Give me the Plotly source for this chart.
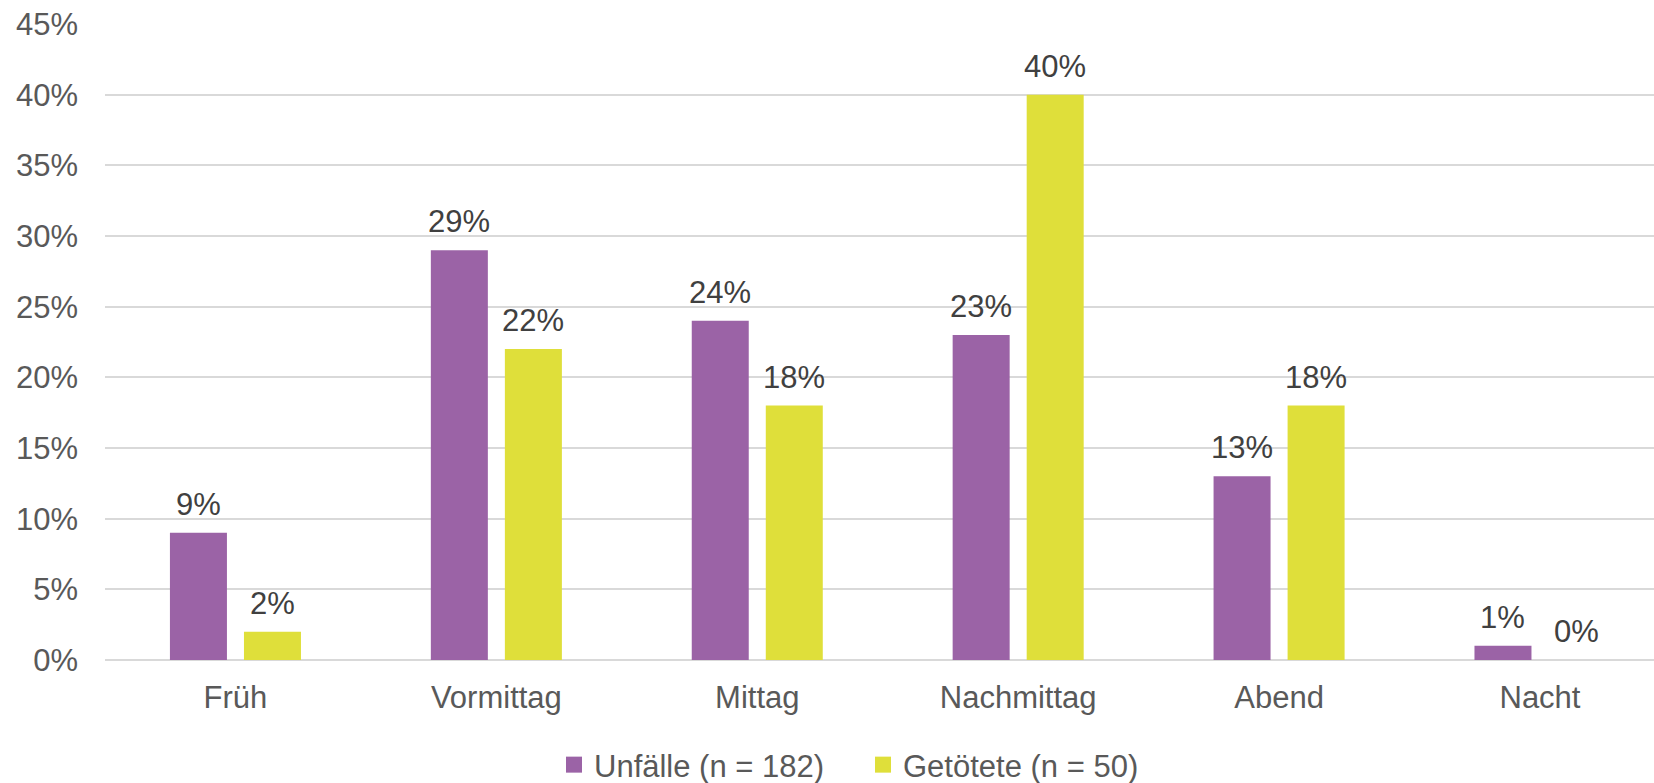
import plotly.graph_objects as go

categories = ["Früh", "Vormittag", "Mittag", "Nachmittag", "Abend", "Nacht"]
unfaelle = [9, 29, 24, 23, 13, 1]
getoetete = [2, 22, 18, 40, 18, 0]
series_names = ["Unfälle (n = 182)", "Getötete (n = 50)"]
y_ticks = [0, 5, 10, 15, 20, 25, 30, 35, 40, 45]

PURPLE = "#9B63A6"
YELLOW = "#DFDF3A"
FONT = "Liberation Sans, Arial, sans-serif"

fig = go.Figure()
fig.add_trace(go.Bar(x=categories, y=unfaelle, name=series_names[0],
                     marker=dict(color=PURPLE, line=dict(width=0)),
                     showlegend=False))
fig.add_trace(go.Bar(x=categories, y=getoetete, name=series_names[1],
                     marker=dict(color=YELLOW, line=dict(width=0)),
                     showlegend=False))

# legend entries with larger square swatches
for name, color in zip(series_names, (PURPLE, YELLOW)):
    fig.add_trace(go.Scatter(x=[None], y=[None], mode="markers", name=name,
                             marker=dict(symbol="square", size=17, color=color,
                                         line=dict(width=0)),
                             showlegend=True))

# value labels above each bar
annotations = []
for vals, shift in ((unfaelle, -37), (getoetete, 37)):
    for i, v in enumerate(vals):
        annotations.append(dict(
            x=i, y=v, xref="x", yref="y", text=f"{v}%", showarrow=False,
            xanchor="center", yanchor="bottom", xshift=shift, yshift=9,
            font=dict(family=FONT, size=31, color="#404040"),
        ))

fig.update_layout(
    width=1654, height=783,
    margin=dict(l=105, r=0, t=24, b=123),
    paper_bgcolor="white", plot_bgcolor="white",
    barmode="group", bargap=0.4325, bargroupgap=0.23,
    font=dict(family=FONT, size=31, color="#595959"),
    showlegend=True,
    legend=dict(orientation="h", xref="container", yref="container",
                x=554 / 1654, y=0.023, xanchor="left", yanchor="middle",
                entrywidth=264, entrywidthmode="pixels",
                font=dict(family=FONT, size=31, color="#595959"),
                traceorder="normal"),
    annotations=annotations,
)
fig.update_xaxes(range=[-0.5, 5.437], showline=False, showgrid=False,
                 ticks="", ticklabelstandoff=16,
                 tickfont=dict(family=FONT, size=31, color="#595959"))
fig.update_yaxes(range=[0, 45], tickvals=y_ticks,
                 ticktext=[f"{t}%" for t in y_ticks],
                 showgrid=True, gridcolor="#D9D9D9", gridwidth=2,
                 zeroline=True, zerolinecolor="#D9D9D9", zerolinewidth=2,
                 showline=False, ticks="", ticklabelstandoff=26,
                 tickfont=dict(family=FONT, size=31, color="#595959"))

fig.write_html("out.html")
